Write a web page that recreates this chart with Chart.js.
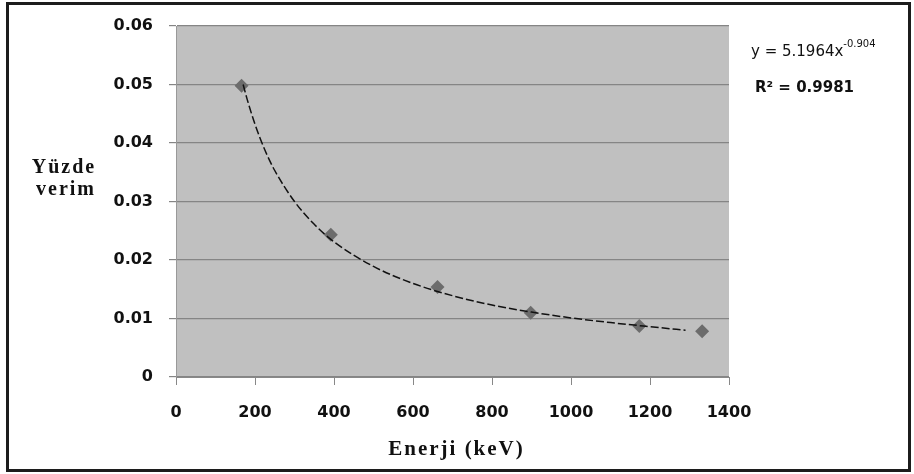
<!DOCTYPE html>
<html>
<head>
<meta charset="utf-8">
<script src="https://cdn.jsdelivr.net/npm/chart.js@4/dist/chart.umd.min.js"></script>
<style>
  html, body { margin: 0; padding: 0; background: #fff; }
  .wrap { position: relative; width: 914px; height: 474px; }
  .frame {
    position: absolute; left: 6px; top: 2px; width: 905px; height: 470px;
    border: 3px solid #1c1c1c; box-sizing: border-box; pointer-events: none;
  }
</style>
</head>
<body>
<div class="wrap">
  <canvas id="chart" width="914" height="474"></canvas>
  <div class="frame"></div>
</div>
<script>
// measured points (keV, efficiency)
var energies = [166, 392, 662, 898, 1173, 1332];
var efficiencies = [0.0498, 0.0243, 0.0154, 0.0110, 0.0087, 0.0078];

// power trendline y = 5.1964x^-0.904, read at a few energies
var trendEnergies = [170, 180, 200, 225, 250, 300, 350, 400, 500, 600, 700, 800, 900, 1000, 1100, 1200, 1290];
var trendValues = [0.0500, 0.0475, 0.0432, 0.0388, 0.0353, 0.0300, 0.0261, 0.0231, 0.0189, 0.0160, 0.0139, 0.0123, 0.0111, 0.0101, 0.0093, 0.0086, 0.0080];

var yTicks = [0, 0.01, 0.02, 0.03, 0.04, 0.05, 0.06];
var xTicks = [0, 200, 400, 600, 800, 1000, 1200, 1400];

var tickFont = { family: '"DejaVu Sans", sans-serif', size: 16, weight: "bold" };

function pairs(xs, ys) {
  return xs.map(function (x, i) { return { x: x, y: ys[i] }; });
}

var plotBg = {
  id: "plotBg",
  beforeDraw: function (chart) {
    var a = chart.chartArea, ctx = chart.ctx;
    ctx.save();
    ctx.fillStyle = "#c0c0c0";
    ctx.fillRect(a.left, a.top, a.right - a.left, a.bottom - a.top);
    ctx.restore();
  }
};

var labels = {
  id: "labels",
  afterDraw: function (chart) {
    var ctx = chart.ctx, a = chart.chartArea;
    ctx.save();
    ctx.fillStyle = "#111";
    ctx.textBaseline = "middle";

    // y title, horizontal on two lines
    ctx.font = 'bold 20px "Liberation Serif", serif';
    ctx.letterSpacing = "2px";
    ctx.textAlign = "center";
    ctx.fillText("Yüzde", 64, 168);
    ctx.fillText("verim", 66, 190);

    // x title
    ctx.font = 'bold 21px "Liberation Serif", serif';
    ctx.letterSpacing = "2px";
    ctx.fillText("Enerji (keV)", (a.left + a.right) / 2 + 4, 450);

    // trendline equation
    ctx.letterSpacing = "0px";
    ctx.textAlign = "left";
    ctx.font = '15px "DejaVu Sans", sans-serif';
    var eq = "y = 5.1964x";
    ctx.fillText(eq, 751, 52);
    var w = ctx.measureText(eq).width;
    ctx.font = '10px "DejaVu Sans", sans-serif';
    ctx.fillText("-0.904", 751 + w, 44);
    ctx.font = 'bold 15px "DejaVu Sans", sans-serif';
    ctx.fillText("R² = 0.9981", 755, 88);
    ctx.restore();
  }
};

new Chart(document.getElementById("chart"), {
  type: "scatter",
  data: {
    datasets: [
      {
        label: "Yüzde verim",
        data: pairs(energies, efficiencies),
        pointStyle: "rectRot",
        pointRadius: 7,
        pointBackgroundColor: "#6c6c6c",
        pointBorderColor: "#6c6c6c",
        pointBorderWidth: 0,
        order: 1
      },
      {
        label: "Trend",
        data: pairs(trendEnergies, trendValues),
        showLine: true,
        borderColor: "#111",
        borderWidth: 1.5,
        borderDash: [8, 3],
        pointRadius: 0,
        cubicInterpolationMode: "monotone",
        order: 0
      }
    ]
  },
  options: {
    responsive: false,
    animation: false,
    layout: { padding: { top: 26, right: 185, bottom: 0, left: 0 } },
    plugins: { legend: { display: false }, tooltip: { enabled: false } },
    scales: {
      x: {
        type: "linear",
        min: xTicks[0],
        max: xTicks[xTicks.length - 1],
        afterBuildTicks: function (s) { s.ticks = xTicks.map(function (v) { return { value: v }; }); },
        afterFit: function (s) { s.height = 97; },
        grid: { drawOnChartArea: false, drawTicks: true, tickLength: 8, color: "#888" },
        border: { display: true, color: "#888", width: 1 },
        ticks: {
          font: tickFont,
          color: "#111",
          padding: 18,
          maxRotation: 0,
          callback: function (v) { return String(v); }
        }
      },
      y: {
        min: yTicks[0],
        max: yTicks[yTicks.length - 1],
        afterBuildTicks: function (s) { s.ticks = yTicks.map(function (v) { return { value: v }; }); },
        afterFit: function (s) { s.width = 176; },
        grid: { color: "#858585", lineWidth: 1.2, tickLength: 7 },
        border: { display: true, color: "#999", width: 1 },
        ticks: {
          font: tickFont,
          color: "#111",
          padding: 16,
          callback: function (v) { return v === 0 ? "0" : v.toFixed(2); }
        }
      }
    }
  },
  plugins: [plotBg, labels]
});
</script>
</body>
</html>
